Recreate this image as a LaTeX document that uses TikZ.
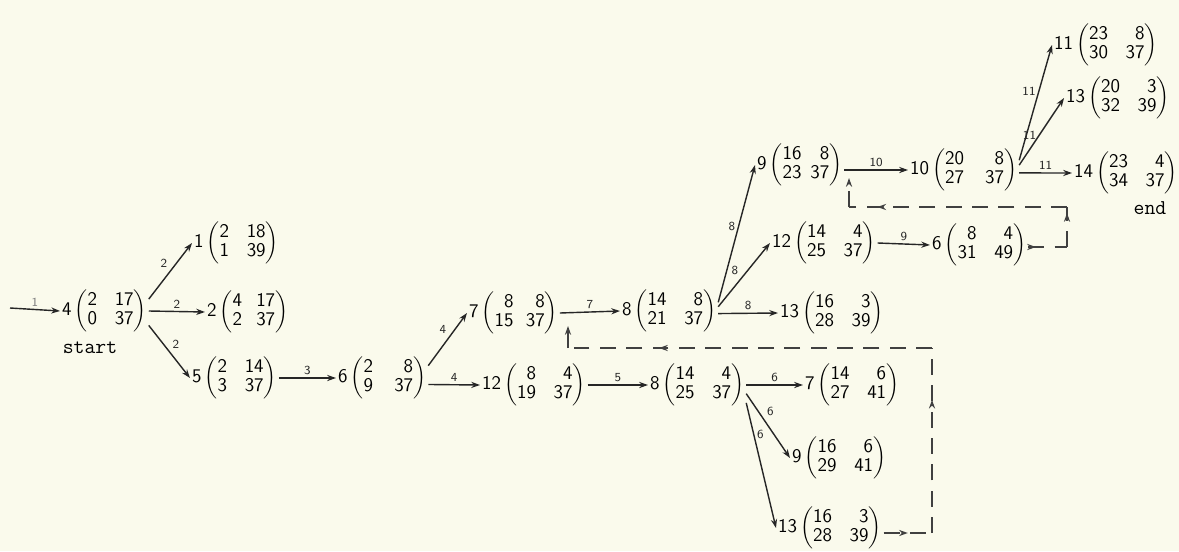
\documentclass[tikz,border=0pt]{standalone}
\usetikzlibrary{arrows.meta, decorations.markings}
\definecolor{paper}{RGB}{250,250,236}
\newcommand{\stmat}[6][10pt]{#2\,$\left(\begin{tabular}{@{}r@{\hspace{#1}}r@{}}#3&#4\\#5&#6\end{tabular}\right)$}
\renewcommand{\arraystretch}{0.88}

\begin{document}
\begin{tikzpicture}[
    x=0.02cm, y=-0.02cm, >=Stealth,
    state/.style = {anchor=west, inner sep=1pt, font=\sffamily\fontsize{11}{12.5}\selectfont},
    tag/.style = {font=\ttfamily\fontsize{12}{14}\selectfont},
    edge/.style = {draw, -{Stealth[length=5pt,width=3.5pt]}, thick, black!85},
    lab/.style = {font=\sffamily\scriptsize, inner sep=1.5pt},
    back/.style = {draw, thick, black!75, dash pattern=on 9pt off 6pt},
    midarrow/.style = {postaction={decorate}, decoration={markings, mark=at position #1 with {\arrow{Stealth[length=5pt,width=3.5pt]}}}}
]
    \fill[paper] (0,0) rectangle (1179,551);
    \useasboundingbox (0,0) rectangle (1179,551);

    \node [state] (n4) at (60,311) {\stmat{4}{2}{17}{0}{37}};
    \node [tag] (start) at (90,348) {start};
    \node [state] (n1) at (192,243) {\stmat{1}{2}{18}{1}{39}};
    \node [state] (n2) at (205,312) {\stmat[8pt]{2}{4}{17}{2}{37}};
    \node [state] (n5) at (190,378) {\stmat{5}{2}{14}{3}{37}};
    \node [state] (n6) at (336,378) {\stmat[12pt]{6}{2}{8}{9}{37}};
    \node [state] (n7) at (467,313) {\stmat[7pt]{7}{8}{8}{15}{37}};
    \node [state] (n12a) at (480,385) {\stmat{12}{8}{4}{19}{37}};
    \node [state] (n8a) at (620,311) {\stmat{8}{14}{8}{21}{37}};
    \node [state] (n8b) at (648,385) {\stmat{8}{14}{4}{25}{37}};
    \node [state] (n9a) at (755,165) {\stmat[5pt]{9}{16}{8}{23}{37}};
    \node [state] (n12b) at (770,243) {\stmat{12}{14}{4}{25}{37}};
    \node [state] (n13a) at (778,313) {\stmat{13}{16}{3}{28}{39}};
    \node [state] (n7b) at (803,385) {\stmat{7}{14}{6}{27}{41}};
    \node [state] (n9b) at (790,458) {\stmat{9}{16}{6}{29}{41}};
    \node [state] (n13b) at (776,528) {\stmat{13}{16}{3}{28}{39}};
    \node [state] (n10) at (908,170) {\stmat[12pt]{10}{20}{8}{27}{37}};
    \node [state] (n6b) at (930,245) {\stmat{6}{8}{4}{31}{49}};
    \node [state] (n11) at (1052,45) {\stmat{11}{23}{8}{30}{37}};
    \node [state] (n13c) at (1064,98) {\stmat{13}{20}{3}{32}{39}};
    \node [state] (n14) at (1072,173) {\stmat{14}{23}{4}{34}{37}};
    \node [tag] (fin) at (1150,208) {end};

    \coordinate (in) at (10,308);
    \coordinate (a1) at (932,533);
    \coordinate (a2) at (932,348);
    \coordinate (a3) at (568,348);
    \coordinate (a4) at (568,326);
    \coordinate (b1) at (1067,247);
    \coordinate (b2) at (1067,207);
    \coordinate (b3) at (849,207);
    \coordinate (b4) at (849,178);

    \draw [edge] (in) -- node [lab, above, text=gray] {1} (n4.west);
    \draw [edge] (n4.15) -- node [lab, above left] {2} (n1.west);
    \draw [edge] (n4.east) -- node [lab, above] {2} (n2.west);
    \draw [edge] (n4.-18) -- node [lab, above right] {2} (n5.west);
    \draw [edge] (n5.east) -- node [lab, above] {3} (n6.west);
    \draw [edge] (n6.15) -- node [lab, above left, pos=0.55] {4} (n7.west);
    \draw [edge] (n6.-8) -- node [lab, above] {4} (n12a.west);
    \draw [edge] (n7.east) -- node [lab, above] {7} (n8a.west);
    \draw [edge] (n12a.east) -- node [lab, above] {5} (n8b.west);
    \draw [edge] (n8a.10) -- node [lab, left, pos=0.55] {8} (n9a.west);
    \draw [edge] (n8a.5) -- node [lab, above left, pos=0.45] {8} (n12b.west);
    \draw [edge] (n8a.-3) -- node [lab, above] {8} (n13a.west);
    \draw [edge] (n8b.east) -- node [lab, above] {6} (n7b.west);
    \draw [edge] (n8b.-10) -- node [lab, above right, pos=0.4] {6} (n9b.west);
    \draw [edge] (n8b.-20) -- node [lab, right, pos=0.25] {6} (n13b.west);
    \draw [edge] (n9a.east |- n10.west) -- node [lab, above] {10} (n10.west);
    \draw [edge] (n12b.east) -- node [lab, above] {9} (n6b.west);
    \draw [edge] (n10.10) -- node [lab, left, pos=0.6] {11} (n11.west);
    \draw [edge] (n10.5) -- node [lab, left, pos=0.45] {11} (n13c.west);
    \draw [edge] (n10.-3) -- node [lab, above] {11} (n14.west);

    \draw [back, midarrow=0.5] (n13b.east |- a1) -- (a1);
    \draw [back, midarrow=0.72] (a1) -- (a2);
    \draw [back, midarrow=0.75] (a2) -- (a3);
    \draw [back, -{Stealth[length=5pt,width=3.5pt]}] (a3) -- (a4);
    \draw [back, midarrow=0.2] (n6b.east |- b1) -- (b1);
    \draw [back, midarrow=0.85] (b1) -- (b2);
    \draw [back, midarrow=0.87] (b2) -- (b3);
    \draw [back, -{Stealth[length=5pt,width=3.5pt]}] (b3) -- (b4);
\end{tikzpicture}
\end{document}
